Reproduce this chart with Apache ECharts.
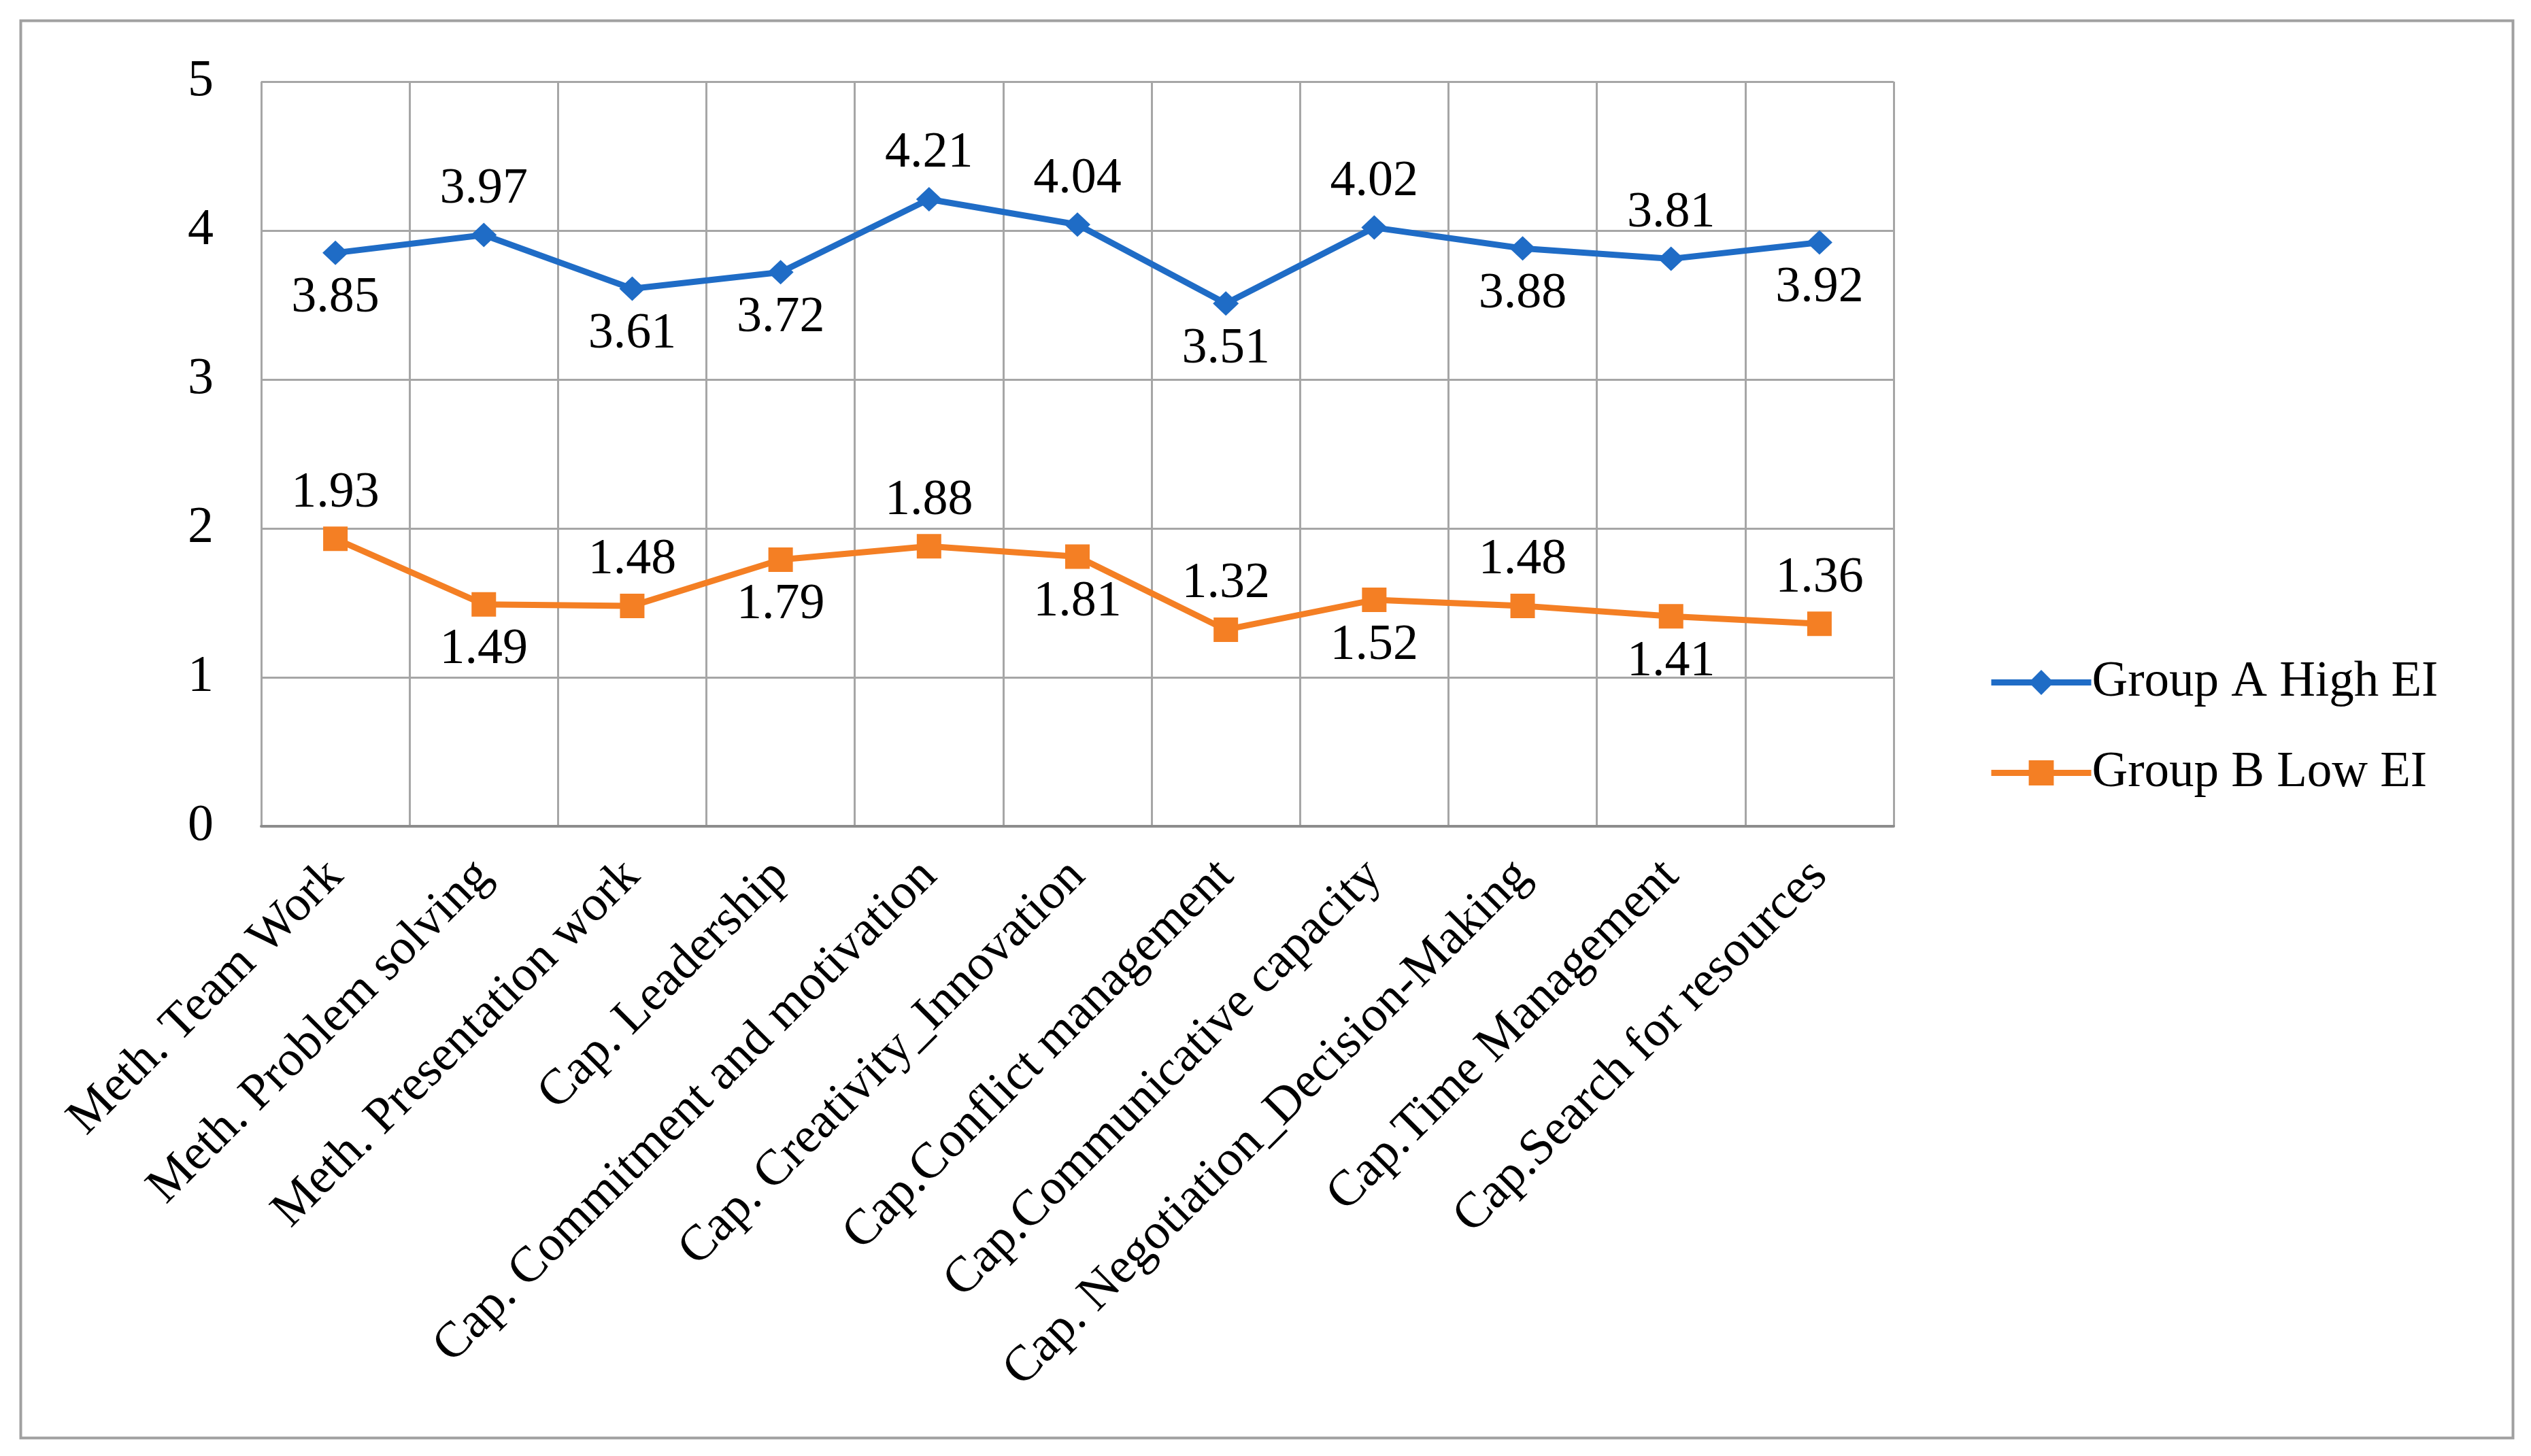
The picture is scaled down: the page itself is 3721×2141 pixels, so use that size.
<!DOCTYPE html>
<html>
<head>
<meta charset="utf-8">
<title>Group A vs Group B</title>
<script src="https://cdn.jsdelivr.net/npm/echarts@6/dist/echarts.min.js"></script>
<style>
  html, body { margin: 0; padding: 0; background: #fff; }
  #chart { width: 3721px; height: 2141px; }
</style>
</head>
<body>
<div id="chart"></div>
<script type="text/javascript">
// categories and values
var categories = [
    'Meth. Team Work',
    'Meth. Problem solving',
    'Meth. Presentation work',
    'Cap. Leadership',
    'Cap. Commitment and motivation',
    'Cap. Creativity_Innovation',
    'Cap.Conflict management',
    'Cap.Communicative capacity',
    'Cap. Negotiation_Decision-Making',
    'Cap.Time Management',
    'Cap.Search for resources'
];
var groupA = [3.85, 3.97, 3.61, 3.72, 4.21, 4.04, 3.51, 4.02, 3.88, 3.81, 3.92];
var groupB = [1.93, 1.49, 1.48, 1.79, 1.88, 1.81, 1.32, 1.52, 1.48, 1.41, 1.36];
var yTicks = [0, 1, 2, 3, 4, 5];

// where each data label sits (as in the original figure)
var labelPosA = ['bottom', 'top', 'bottom', 'bottom', 'top', 'top', 'bottom', 'top', 'bottom', 'top', 'bottom'];
var labelPosB = ['top', 'bottom', 'top', 'bottom', 'top', 'bottom', 'top', 'bottom', 'top', 'bottom', 'top'];

var font = "'Liberation Serif', 'Times New Roman', serif";
var gridColor = '#a6a6a6';
var blue = '#1f6cc6';
var orange = '#f47f24';

function withLabels(values, positions) {
    return values.map(function (v, i) {
        return { value: v, label: { position: positions[i] } };
    });
}

var chart = echarts.init(document.getElementById('chart'));

var option = {
    backgroundColor: '#fff',
    animation: false,
    textStyle: { fontFamily: font, color: '#000' },
    grid: {
        left: 384,
        right: 937,
        top: 120,
        bottom: 926
    },
    legend: {
        orient: 'vertical',
        left: 2918,
        top: 962,
        itemWidth: 147,
        itemHeight: 46,
        itemGap: 60,
        lineStyle: { width: 9 },
        textStyle: { fontFamily: font, fontSize: 73, color: '#000', padding: [0, 0, 0, -4] },
        data: ['Group A High EI', 'Group B Low EI']
    },
    xAxis: {
        type: 'category',
        data: categories,
        boundaryGap: true,
        axisLine: { show: true, lineStyle: { color: '#8c8c8c', width: 4 } },
        axisTick: { show: false },
        splitLine: { show: true, lineStyle: { color: gridColor, width: 3 } },
        axisLabel: {
            interval: 0,
            rotate: 45,
            margin: 62,
            fontFamily: font,
            fontSize: 74,
            color: '#000'
        }
    },
    yAxis: {
        type: 'value',
        min: yTicks[0],
        max: yTicks[yTicks.length - 1],
        interval: 1,
        axisLine: { show: false },
        axisTick: { show: false },
        splitLine: { show: true, lineStyle: { color: gridColor, width: 3 } },
        axisLabel: {
            margin: 70,
            fontFamily: font,
            fontSize: 76,
            color: '#000'
        }
    },
    series: [
        {
            name: 'Group A High EI',
            type: 'line',
            data: withLabels(groupA, labelPosA),
            symbol: 'diamond',
            symbolSize: [38, 36],
            itemStyle: { color: blue },
            lineStyle: { color: blue, width: 9 },
            label: {
                show: true,
                distance: 12,
                fontFamily: font,
                fontSize: 74,
                color: '#000'
            },
            z: 3
        },
        {
            name: 'Group B Low EI',
            type: 'line',
            data: withLabels(groupB, labelPosB),
            symbol: 'rect',
            symbolSize: 36,
            itemStyle: { color: orange },
            lineStyle: { color: orange, width: 9 },
            label: {
                show: true,
                distance: 12,
                fontFamily: font,
                fontSize: 74,
                color: '#000'
            },
            z: 3
        }
    ],
    graphic: [
        {
            type: 'rect',
            left: 28,
            top: 28,
            shape: { width: 3664, height: 2084 },
            style: { fill: 'none', stroke: '#a0a0a0', lineWidth: 4 },
            silent: true
        }
    ]
};

chart.setOption(option);
window.onresize = function () {
    chart.resize();
};
</script>
</body>
</html>
